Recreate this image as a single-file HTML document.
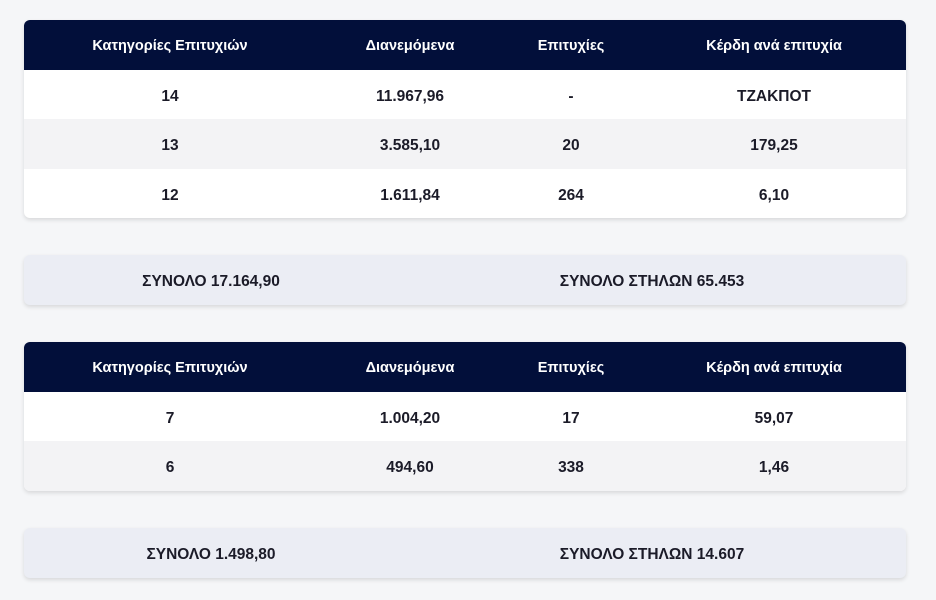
<!DOCTYPE html>
<html><head><meta charset="utf-8"><style>
body{margin:0;width:936px;height:600px;background:#f5f6f8;font-family:"Liberation Sans","DejaVu Sans",sans-serif;font-weight:bold;font-size:15.5px;color:#1b1b28;position:relative;overflow:hidden}
.t{position:absolute;left:24px;width:882px;border-radius:6px;overflow:hidden;background:#fff;box-shadow:0 2px 4px rgba(0,0,0,.12)}
.r{position:relative;height:49.5px}
.h{background:#020f3a;color:#fff;font-size:14.5px}
.g{background:#f3f3f5}
.c{position:absolute;top:2px;line-height:49.5px;transform:translateX(-50%);white-space:nowrap}
.s{position:absolute;left:24px;width:882px;height:50px;border-radius:6px;background:#ebedf4;box-shadow:0 2px 4px rgba(0,0,0,.12)}
</style></head><body>
<div class="t" style="top:20px">
<div class="r h"><span class="c" style="left:146px">Κατηγορίες Επιτυχιών</span><span class="c" style="left:386px">Διανεμόμενα</span><span class="c" style="left:547px">Επιτυχίες</span><span class="c" style="left:750px">Κέρδη ανά επιτυχία</span></div>
<div class="r"><span class="c" style="left:146px">14</span><span class="c" style="left:386px">11.967,96</span><span class="c" style="left:547px">-</span><span class="c" style="left:750px">ΤΖΑΚΠΟΤ</span></div>
<div class="r g"><span class="c" style="left:146px">13</span><span class="c" style="left:386px">3.585,10</span><span class="c" style="left:547px">20</span><span class="c" style="left:750px">179,25</span></div>
<div class="r"><span class="c" style="left:146px">12</span><span class="c" style="left:386px">1.611,84</span><span class="c" style="left:547px">264</span><span class="c" style="left:750px">6,10</span></div>
</div>
<div class="s" style="top:255px"><span class="c" style="left:187px;line-height:50px">ΣΥΝΟΛΟ 17.164,90</span><span class="c" style="left:628px;line-height:50px">ΣΥΝΟΛΟ ΣΤΗΛΩΝ 65.453</span></div>
<div class="t" style="top:342px">
<div class="r h"><span class="c" style="left:146px">Κατηγορίες Επιτυχιών</span><span class="c" style="left:386px">Διανεμόμενα</span><span class="c" style="left:547px">Επιτυχίες</span><span class="c" style="left:750px">Κέρδη ανά επιτυχία</span></div>
<div class="r"><span class="c" style="left:146px">7</span><span class="c" style="left:386px">1.004,20</span><span class="c" style="left:547px">17</span><span class="c" style="left:750px">59,07</span></div>
<div class="r g"><span class="c" style="left:146px">6</span><span class="c" style="left:386px">494,60</span><span class="c" style="left:547px">338</span><span class="c" style="left:750px">1,46</span></div>
</div>
<div class="s" style="top:528px"><span class="c" style="left:187px;line-height:50px">ΣΥΝΟΛΟ 1.498,80</span><span class="c" style="left:628px;line-height:50px">ΣΥΝΟΛΟ ΣΤΗΛΩΝ 14.607</span></div>
</body></html>
